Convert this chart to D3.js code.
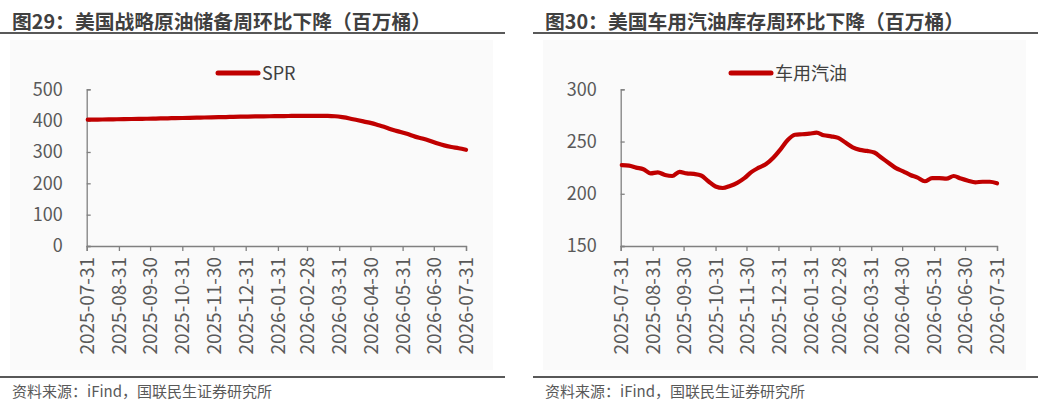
<!DOCTYPE html>
<html lang="zh">
<head>
<meta charset="utf-8">
<style>
  body { margin: 0; background: #fff; }
  svg text { font-family: "Noto Sans CJK SC", "Noto Sans", sans-serif; }
  .title { font-weight: bold; font-size: 19.8px; fill: #404040; }
  .tick text { font-size: 18px; fill: #595959; }
  .xlab .tick text { font-size: 19px; }
  .legend { font-size: 18px; fill: #404040; }
  .source { font-size: 15px; fill: #595959; }
</style>
</head>
<body>
<script src="https://d3js.org/d3.v7.min.js"></script>
<script>
// weekly observations, Fridays from 2025-08-01 to 2026-07-31
var weeks = d3.timeFriday.range(new Date(2025, 7, 1), new Date(2026, 6, 31, 12));

var tickLabels = ["2025-07-31","2025-08-31","2025-09-30","2025-10-31","2025-11-30","2025-12-31",
  "2026-01-31","2026-02-28","2026-03-31","2026-04-30","2026-05-31","2026-06-30","2026-07-31"];

// 美国战略原油储备 (百万桶)
var sprValues = [403,403.3,403.6,404,404.4,404.8,405.2,405.6,406,406.5,407,407.5,408,408.5,
  409,409.5,410,410.5,411,411.5,412,412.5,413,413.3,413.6,414,414.3,414.6,415,415.2,415.4,
  415.5,415.5,415.3,414,411,407,402,397,392,385,378,370,364,357,349,343,336,328,321,316,312,307];

// 美国车用汽油库存 (百万桶)
var gasValues = [227.5,227,225,223.5,219.5,220.5,218,217,221,219.5,219,217.5,212,207,205.5,
  207.5,210.5,215,221,225,228.5,234.5,242.5,251.5,256.5,257,257.5,258.5,256,255,253.5,249,
  244.5,242,241,239.5,234.5,229.5,224.5,221.5,218,215.5,212,215,215,214.5,217,214.5,212.5,
  211,211.5,211.5,210];

var W = 1046, H = 408;
var parse = d3.timeParse("%Y-%m-%d");
var tickDates = tickLabels.map(parse);

var svg = d3.select("body").append("svg")
    .attr("width", W)
    .attr("height", H);

function panel(o){
    var g = svg.append("g").attr("transform", "translate(" + o.left + ",0)");

    // faint plot box
    g.append("rect")
        .attr("x", o.boxX).attr("y", 40)
        .attr("width", o.boxW).attr("height", 330)
        .attr("fill", "#fafafa");

    // title and rules
    g.append("text").attr("class", "title")
        .attr("x", o.titleX).attr("y", 28.5)
        .text(o.title);
    g.append("line")
        .attr("x1", o.ruleX1).attr("x2", o.ruleX2)
        .attr("y1", 33).attr("y2", 33)
        .attr("stroke", "#595959").attr("stroke-width", 2);
    g.append("line")
        .attr("x1", o.ruleX1).attr("x2", o.ruleX2)
        .attr("y1", 377).attr("y2", 377)
        .attr("stroke", "#595959").attr("stroke-width", 2);
    g.append("text").attr("class", "source")
        .attr("x", o.titleX).attr("y", 397)
        .text("资料来源：iFind，国联民生证券研究所");

    var x = d3.scaleTime()
        .domain([tickDates[0], tickDates[tickDates.length - 1]])
        .range(o.xRange);
    var y = d3.scaleLinear()
        .domain(o.yDomain)
        .range([246, 89.3]);

    // y axis
    var ya = g.append("g")
        .attr("transform", "translate(" + o.xRange[0] + ",0)")
        .call(d3.axisLeft(y).tickValues(o.yTicks).tickSize(-4).tickPadding(24));
    ya.select(".domain").attr("stroke", "#808080").attr("stroke-width", 1.3);
    ya.selectAll(".tick line").attr("stroke", "#808080").attr("stroke-width", 1.3);

    // x axis
    var xa = g.append("g")
        .attr("class", "xlab")
        .attr("transform", "translate(0,246)")
        .call(d3.axisBottom(x).tickValues(tickDates).tickSize(5)
            .tickFormat(d3.timeFormat("%Y-%m-%d")));
    xa.select(".domain").attr("stroke", "#808080").attr("stroke-width", 1.3);
    xa.selectAll(".tick line").attr("stroke", "#808080").attr("stroke-width", 1.3);
    xa.selectAll(".tick text")
        .attr("text-anchor", "end")
        .attr("transform", "rotate(-90)")
        .attr("x", -11)
        .attr("y", 0)
        .attr("dy", "0.35em");

    // series line
    var line = d3.line()
        .x(function(d, i){ return x(weeks[i]); })
        .y(function(d){ return y(d); })
        .curve(d3.curveMonotoneX);
    g.append("path")
        .datum(o.values)
        .attr("fill", "none")
        .attr("stroke", "#c00000")
        .attr("stroke-width", 4.2)
        .attr("stroke-linejoin", "round")
        .attr("stroke-linecap", "round")
        .attr("d", line);

    // legend
    g.append("line")
        .attr("x1", o.legendX).attr("x2", o.legendX + 40)
        .attr("y1", 73).attr("y2", 73)
        .attr("stroke", "#c00000").attr("stroke-width", 5)
        .attr("stroke-linecap", "round");
    g.append("text").attr("class", "legend")
        .attr("x", o.legendX + 44).attr("y", 79.5)
        .text(o.name);
}

panel({
    left: 0, title: "图29：美国战略原油储备周环比下降（百万桶）", titleX: 12,
    ruleX1: 0, ruleX2: 505, boxX: 10, boxW: 483,
    xRange: [86.7, 466], yDomain: [0, 500], yTicks: [0, 100, 200, 300, 400, 500],
    values: sprValues, name: "SPR", legendX: 218
});

panel({
    left: 526, title: "图30：美国车用汽油库存周环比下降（百万桶）", titleX: 19,
    ruleX1: 7, ruleX2: 512, boxX: 17, boxW: 483,
    xRange: [94.7, 471], yDomain: [150, 300], yTicks: [150, 200, 250, 300],
    values: gasValues, name: "车用汽油", legendX: 205
});
</script>
</body>
</html>
